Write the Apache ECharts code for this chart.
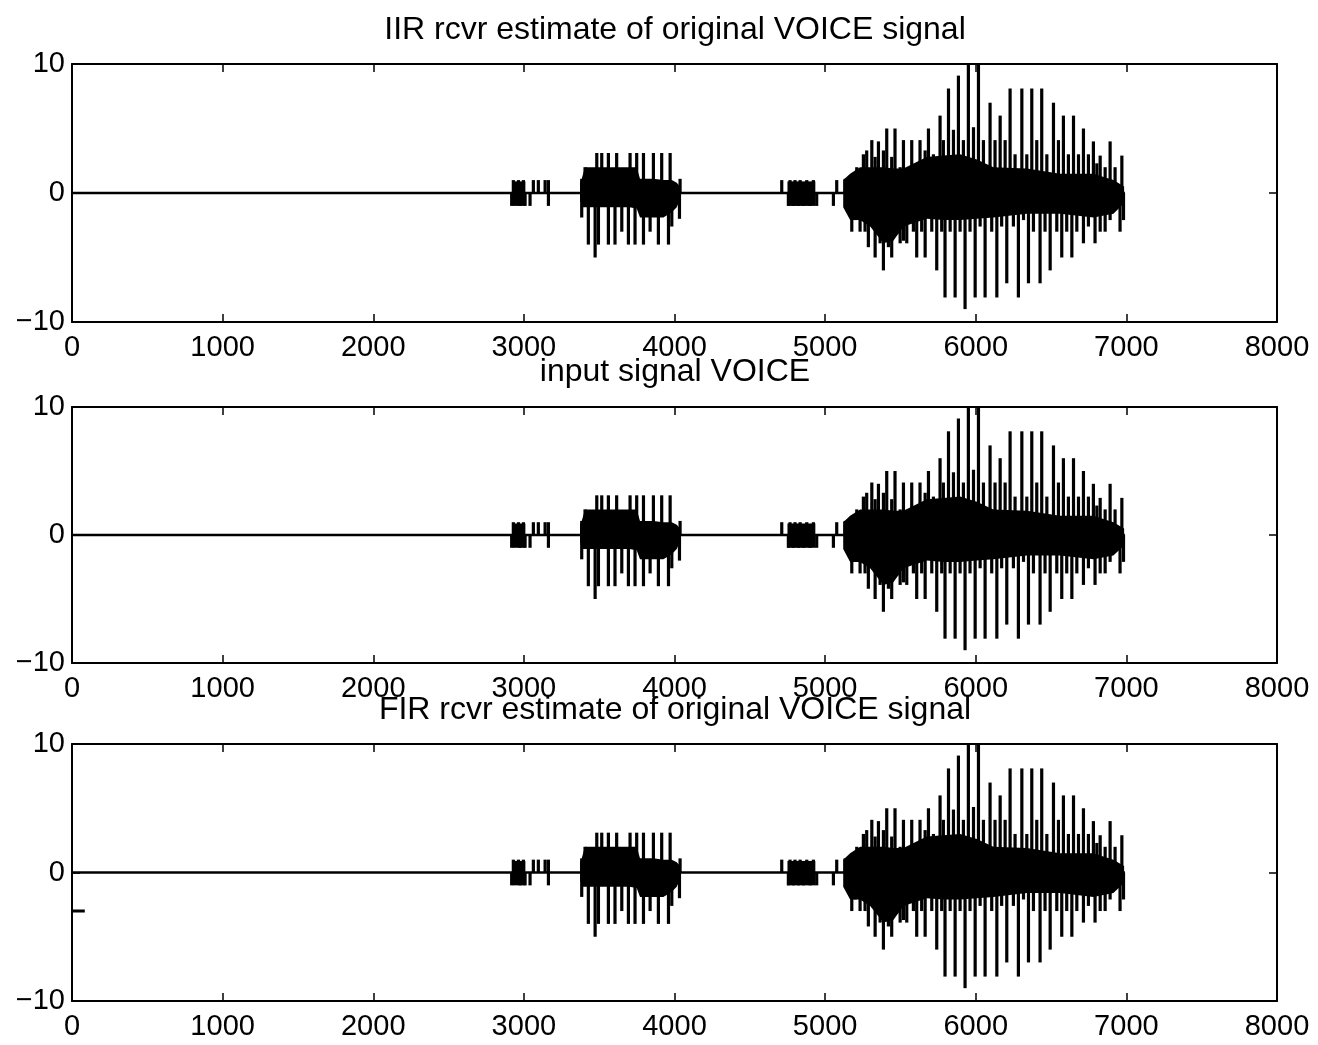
<!DOCTYPE html>
<html>
<head>
<meta charset="utf-8">
<script src="https://cdn.jsdelivr.net/npm/echarts@6/dist/echarts.min.js"></script>
<style>
    html, body { margin: 0; padding: 0; background: #fff; }
    #chart { width: 1318px; height: 1045px; }
</style>
</head>
<body>
<div id="chart"></div>
<script>

const titles = [
    'IIR rcvr estimate of original VOICE signal',
    'input signal VOICE',
    'FIR rcvr estimate of original VOICE signal',
];

// tall positive spikes (sample index, amplitude)
const upX = [2930, 2964, 2997, 3063, 3096, 3141, 3163,
    3384, 3406, 3484, 3517, 3561, 3616, 3705, 3749, 3794, 3860, 3915, 3971, 4037,
    4712, 4767, 4800, 4834, 4878, 4922, 5077,
    5133, 5210, 5254, 5310, 5354, 5409, 5464, 5520, 5575, 5630, 5686, 5763, 5819, 5885,
    5951, 6018, 6095, 6162, 6228, 6306, 6372, 6438, 6516, 6582, 6649, 6715, 6781, 6826, 6892, 6970];
const upY = [1, 1, 1, 1, 1, 1, 1,
    1.1, 2, 3.1, 3.1, 3.1, 3.1, 3.1, 3.1, 3.1, 3.1, 3.1, 3.1, 1.1,
    1, 1, 1, 1, 1, 1, 1,
    1.1, 2.0, 3.0, 4.1, 4.0, 5.0, 5.0, 4.1, 4.1, 4.1, 5.0, 6.0, 8.1, 9.1,
    10, 10, 7.0, 6.0, 8.1, 8.1, 8.1, 8.1, 7.0, 6.0, 6.0, 5.0, 4.0, 2.9, 4.0, 2.9];

// deep negative spikes
const downX = [2919, 2975, 3008, 3041, 3163,
    3384, 3428, 3473, 3495, 3561, 3605, 3650, 3694, 3738, 3794, 3838, 3893, 3960, 3982, 4033,
    4756, 4789, 4823, 4856, 4900, 4944, 5055,
    5177, 5232, 5287, 5332, 5387, 5442, 5498, 5542, 5608, 5664, 5741, 5796, 5863, 5929,
    5996, 6062, 6140, 6206, 6283, 6350, 6427, 6494, 6571, 6638, 6715, 6792, 6859, 6958];
const downY = [-1, -1, -1, -1, -1,
    -1.9, -4, -5, -4, -4, -4, -3, -4, -4, -4, -3, -4, -4, -2.6, -2,
    -1, -1, -1, -1, -1, -1, -1,
    -3.0, -3.0, -4.2, -5.0, -6.0, -5.0, -3.9, -3.9, -5.0, -5.0, -6.0, -8.1, -8.1, -9.0,
    -8.1, -8.1, -8.1, -7.0, -8.1, -7.0, -7.0, -6.0, -5.0, -5.0, -3.9, -3.9, -3.0, -3.0];

// shorter spikes in between, last voiced part
const midUpX = [5276, 5332, 5387, 5442, 5498, 5553, 5608, 5664, 5719, 5785, 5852, 5918, 5985,
    6051, 6128, 6195, 6261, 6339, 6405, 6472, 6549, 6615, 6682, 6748, 6804, 6859, 6925];
const midUpY = [3.3, 2.8, 3.3, 2.8, 2.0, 2.0, 2.0, 3.3, 3.0, 4.1, 4.9, 4.1, 5.1,
    4.1, 4.1, 4.1, 3.0, 3.0, 4.1, 3.0, 4.1, 3.0, 3.0, 3.0, 2.3, 2.0, 2.0];
const midDownX = [5199, 5265, 5321, 5365, 5420, 5475, 5520, 5586, 5641, 5708, 5774, 5830, 5896, 5962,
    6029, 6106, 6172, 6250, 6317, 6383, 6460, 6538, 6604, 6671, 6748, 6826, 6892, 6981];
const midDownY = [-2.1, -3.0, -2.6, -3.9, -4.2, -3.2, -3.7, -3.0, -3.0, -3.0, -3.0, -3.0, -3.0, -3.0,
    -2.6, -3.0, -2.6, -2.6, -2.1, -3.0, -3.0, -3.0, -3.0, -3.0, -2.6, -3.0, -2.1, -2.1];

// dense parts of the signal: x, upper and lower envelope
const blockAX = [2925, 3010];
const blockAUp = [0.9, 0.9];
const blockALo = [-1, -1];

const blockBX = [3373, 3384, 3406, 3417, 3550, 3700, 3749, 3771, 3860, 3926, 3982, 4015, 4037];
const blockBUp = [0.8, 1.1, 2, 2, 2, 2, 2, 1.1, 1.1, 1.0, 1.0, 0.8, 0.5];
const blockBLo = [-0.5, -1.1, -1.1, -1.1, -1.1, -1.1, -1.2, -1.9, -1.9, -1.9, -1.5, -1.1, -0.5];

const blockCX = [4750, 4935];
const blockCUp = [0.9, 0.9];
const blockCLo = [-1, -1];

const blockDX = [5120, 5166, 5232, 5299, 5387, 5453, 5520, 5675, 5786, 5896, 6007, 6117, 6339, 6560, 6781, 6914, 6985];
const blockDUp = [1.0, 1.5, 2.0, 2.0, 2.0, 1.9, 1.9, 2.8, 2.9, 3.0, 2.6, 2.0, 1.9, 1.5, 1.5, 1.0, 0.5];
const blockDLo = [-1.1, -2.1, -2.1, -2.6, -3.9, -3.7, -2.6, -2.0, -2.1, -2.1, -2.0, -1.9, -1.6, -1.6, -1.9, -1.6, -0.8];

const blocks = [
    [blockAX, blockAUp, blockALo],
    [blockBX, blockBUp, blockBLo],
    [blockCX, blockCUp, blockCLo],
    [blockDX, blockDUp, blockDLo],
];

const zeroLine = [[0, 0], [6990, 0]];
const firMark = [[5, -3], [85, -3]];

const font = 'Liberation Sans, Arial, Helvetica, sans-serif';

const gridTops = [64, 407, 744];
const gridHeights = [258, 256, 257];
const titleY = [30, 372, 710];

const pairs = (xs, ys) => xs.map((x, i) => [x, ys[i]]);
const spikes = pairs(upX, upY)
    .concat(pairs(downX, downY))
    .concat(pairs(midUpX, midUpY))
    .concat(pairs(midDownX, midDownY));

const chart = echarts.init(document.getElementById('chart'));

const xAxes = [];
const yAxes = [];
const series = [];

gridTops.forEach((top, i) => {

    const axisLine = { onZero: false, lineStyle: { color: '#000', width: 2 } };
    const axisTick = { inside: true, length: 8, lineStyle: { color: '#000', width: 1.5 } };

    xAxes.push({
        gridIndex: i, type: 'value', min: 0, max: 8000, interval: 1000,
        axisLine, axisTick, splitLine: { show: false },
        axisLabel: {
            fontSize: 29, color: '#000', fontFamily: font, margin: 11,
            formatter: (v) => String(v),
        },
    });
    xAxes.push({
        gridIndex: i, type: 'value', position: 'top', min: 0, max: 8000, interval: 1000,
        axisLine, axisTick, splitLine: { show: false }, axisLabel: { show: false },
    });
    yAxes.push({
        gridIndex: i, type: 'value', min: -10, max: 10, interval: 10,
        axisLine, axisTick, splitLine: { show: false },
        axisLabel: {
            fontSize: 29, color: '#000', fontFamily: font, margin: 7,
            formatter: (v) => String(v).replace('-', '\u2212'),
        },
    });
    yAxes.push({
        gridIndex: i, type: 'value', position: 'right', min: -10, max: 10, interval: 10,
        axisLine, axisTick, splitLine: { show: false }, axisLabel: { show: false },
    });

    const xi = i * 2;
    const yi = i * 2;

    series.push({
        type: 'line', xAxisIndex: xi, yAxisIndex: yi,
        data: zeroLine, showSymbol: false, silent: true,
        lineStyle: { color: '#000', width: 2.5 },
    });

    series.push({
        type: 'custom', xAxisIndex: xi, yAxisIndex: yi,
        data: blocks.map((b, k) => [b[0][0], 0, k]),
        encode: { x: 0, y: 1 },
        renderItem: (params, api) => {
            const [bx, bu, bl] = blocks[api.value(2)];
            const pts = bx.map((x, j) => api.coord([x, bu[j]]));
            for (let j = bx.length - 1; j >= 0; j--) {
                pts.push(api.coord([bx[j], bl[j]]));
            }
            return { type: 'polygon', shape: { points: pts }, style: { fill: '#000' } };
        },
    });

    series.push({
        type: 'custom', xAxisIndex: xi, yAxisIndex: yi,
        data: spikes,
        encode: { x: 0, y: 1 },
        renderItem: (params, api) => {
            const base = api.coord([api.value(0), 0]);
            const tip = api.coord([api.value(0), api.value(1)]);
            return {
                type: 'line',
                shape: { x1: base[0], y1: base[1], x2: tip[0], y2: tip[1] },
                style: { stroke: '#000', lineWidth: 3.2 },
            };
        },
    });

    if (i === 2) {
        series.push({
            type: 'line', xAxisIndex: xi, yAxisIndex: yi,
            data: firMark, showSymbol: false, silent: true,
            lineStyle: { color: '#000', width: 3 },
        });
    }
});

chart.setOption({
    animation: false,
    backgroundColor: '#fff',
    grid: gridTops.map((top, i) => ({
        left: 72, top, width: 1205, height: gridHeights[i],
    })),
    graphic: titles.map((t, i) => ({
        type: 'text',
        x: 675,
        y: titleY[i],
        style: {
            text: t,
            fontSize: 32,
            fontFamily: font,
            fill: '#000',
            align: 'center',
            verticalAlign: 'middle',
            textAlign: 'center',
            textVerticalAlign: 'middle',
        },
    })),
    xAxis: xAxes,
    yAxis: yAxes,
    series,
});

</script>
</body>
</html>
